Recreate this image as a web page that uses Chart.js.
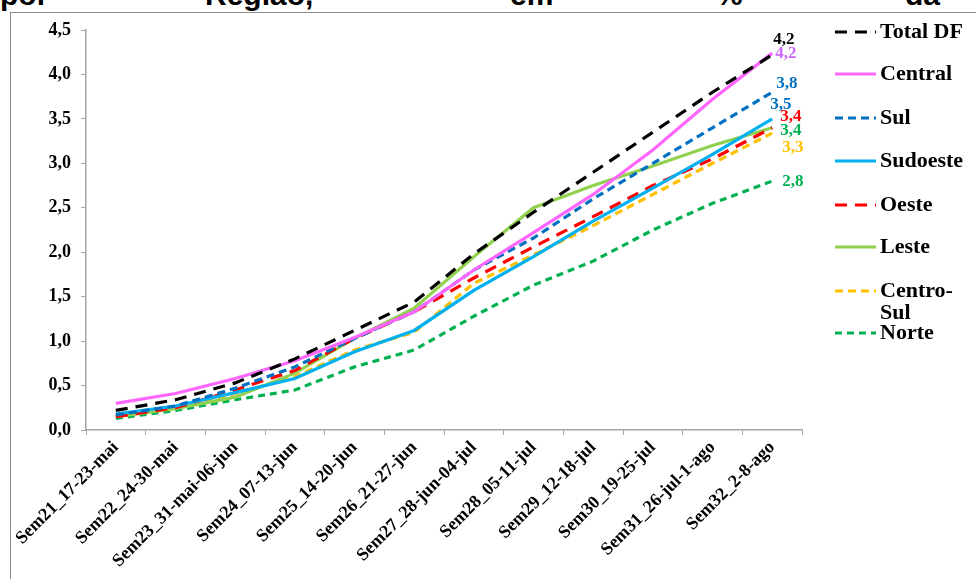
<!DOCTYPE html>
<html>
<head>
<meta charset="utf-8">
<script src="https://cdn.jsdelivr.net/npm/chart.js@4.4.1/dist/chart.umd.min.js"></script>
<style>
  html, body { margin: 0; padding: 0; background: #fff; overflow: hidden; }
  #wrap { position: relative; width: 976px; height: 579px; overflow: hidden; }
  #frame { position: absolute; left: 10px; top: 12px; width: 1000px; height: 600px; border-left: 1.5px solid #8c8c8c; border-top: 1.5px solid #8c8c8c; }
  .tw { position: absolute; top: -20px; font: bold 30px "Liberation Sans", Arial, sans-serif; line-height: 30px; color: #000; white-space: nowrap; }
  canvas { position: absolute; left: 0; top: 0; }
</style>
</head>
<body>
<div id="wrap">
  <div id="frame"></div>
  <div class="tw" style="left:0px">por</div>
  <div class="tw" style="left:205px">Região,</div>
  <div class="tw" style="left:510px">em</div>
  <div class="tw" style="left:716px">%</div>
  <div class="tw" style="left:905px">da</div>
  <canvas id="chart" width="976" height="579"></canvas>
</div>
<script>
const semanas = ['Sem21_17-23-mai', 'Sem22_24-30-mai', 'Sem23_31-mai-06-jun', 'Sem24_07-13-jun',
  'Sem25_14-20-jun', 'Sem26_21-27-jun', 'Sem27_28-jun-04-jul', 'Sem28_05-11-jul',
  'Sem29_12-18-jul', 'Sem30_19-25-jul', 'Sem31_26-jul-1-ago', 'Sem32_2-8-ago'];

const totalDF   = [0.22, 0.34, 0.53, 0.80, 1.12, 1.44, 1.98, 2.45, 2.90, 3.35, 3.80, 4.22];
const central   = [0.30, 0.41, 0.58, 0.78, 1.04, 1.33, 1.80, 2.22, 2.65, 3.15, 3.72, 4.24];
const sul       = [0.17, 0.27, 0.47, 0.71, 1.03, 1.33, 1.80, 2.16, 2.60, 3.00, 3.40, 3.80];
const sudoeste  = [0.18, 0.27, 0.42, 0.58, 0.88, 1.12, 1.57, 1.95, 2.35, 2.72, 3.10, 3.50];
const oeste     = [0.15, 0.25, 0.45, 0.67, 1.03, 1.33, 1.71, 2.06, 2.40, 2.75, 3.05, 3.40];
const leste     = [0.15, 0.24, 0.37, 0.64, 1.03, 1.37, 1.95, 2.50, 2.75, 2.97, 3.20, 3.40];
const centroSul = [0.15, 0.25, 0.41, 0.60, 0.90, 1.10, 1.65, 1.97, 2.30, 2.65, 3.00, 3.34];
const norte     = [0.13, 0.22, 0.34, 0.45, 0.71, 0.90, 1.28, 1.63, 1.90, 2.25, 2.55, 2.80];

const yTicks = [0, 0.5, 1, 1.5, 2, 2.5, 3, 3.5, 4, 4.5];

const serif = '"Liberation Serif", "Times New Roman", serif';

function ds(label, data, color, dash, labelColor, off) {
  return {
    label: label, data: data, borderColor: color, backgroundColor: color,
    borderWidth: 3.2, borderDash: dash, pointRadius: 0, tension: 0, fill: false,
    endColor: labelColor, endOffset: off
  };
}

const datasets = [
  ds('Total DF', totalDF, '#000000', [12, 8], '#000000', [1, -15]),
  ds('Central', central, '#ff66ff', [], '#cc66ff', [3, 0]),
  ds('Sul', sul, '#0070c0', [8, 5], '#0070c0', [4, -9]),
  ds('Sudoeste', sudoeste, '#00b0f0', [], '#0070c0', [-2, -14]),
  ds('Oeste', oeste, '#ff0000', [12, 8], '#ff0000', [8, -11]),
  ds('Leste', leste, '#92d050', [], '#00b050', [8, 3]),
  ds('Centro-Sul', centroSul, '#ffc000', [8, 5], '#ffc000', [10, 14]),
  ds('Norte', norte, '#00b050', [7, 5], '#00b050', [10, 0])
];

// rótulos do último ponto de cada série
const endLabels = {
  id: 'endLabels',
  afterDatasetsDraw(chart) {
    const ctx = chart.ctx;
    ctx.save();
    ctx.font = 'bold 17px ' + serif;
    ctx.textBaseline = 'middle';
    ctx.textAlign = 'left';
    chart.data.datasets.forEach((d, i) => {
      const meta = chart.getDatasetMeta(i);
      const pt = meta.data[meta.data.length - 1];
      const v = d.data[d.data.length - 1].toFixed(1).replace('.', ',');
      ctx.fillStyle = d.endColor;
      ctx.fillText(v, pt.x + d.endOffset[0], pt.y + d.endOffset[1]);
    });
    ctx.restore();
  }
};

// legenda à direita
const legendRows = [32, 74, 118, 161, 205, 247, 291, 333];
const sideLegend = {
  id: 'sideLegend',
  afterDraw(chart) {
    const ctx = chart.ctx;
    ctx.save();
    ctx.font = 'bold 22px ' + serif;
    ctx.textBaseline = 'middle';
    chart.data.datasets.forEach((d, i) => {
      const y = legendRows[i];
      ctx.strokeStyle = d.borderColor;
      ctx.lineWidth = 3.2;
      ctx.setLineDash(d.borderDash);
      ctx.beginPath();
      ctx.moveTo(835, y);
      ctx.lineTo(876, y);
      ctx.stroke();
      ctx.setLineDash([]);
      ctx.fillStyle = '#000';
      if (d.label === 'Centro-Sul') {
        ctx.fillText('Centro-', 880, y);
        ctx.fillText('Sul', 880, y + 22);
      } else {
        ctx.fillText(d.label, 880, y);
      }
    });
    ctx.restore();
  }
};

new Chart(document.getElementById('chart'), {
  type: 'line',
  data: { labels: semanas, datasets: datasets },
  plugins: [endLabels, sideLegend],
  options: {
    responsive: false,
    animation: false,
    layout: { padding: { left: 0, top: 30, right: 174, bottom: 0 } },
    plugins: { legend: { display: false }, tooltip: { enabled: false } },
    scales: {
      x: {
        offset: true,
        grid: { offset: true, drawOnChartArea: false, tickLength: 5, color: '#a6a6a6' },
        border: { color: '#a6a6a6', width: 1.5 },
        ticks: {
          color: '#000', font: { family: serif, size: 18, weight: 'bold' },
          minRotation: 45, maxRotation: 45, autoSkip: false, padding: 2
        },
        afterFit(scale) { scale.height = 149; }
      },
      y: {
        min: 0, max: 4.5,
        afterBuildTicks(scale) { scale.ticks = yTicks.map(v => ({ value: v })); },
        grid: { drawOnChartArea: false, tickLength: 5, color: '#a6a6a6' },
        border: { color: '#a6a6a6', width: 1.5 },
        ticks: {
          color: '#000', font: { family: serif, size: 18, weight: 'bold' }, padding: 10,
          callback: v => v.toFixed(1).replace('.', ',')
        },
        afterFit(scale) { scale.width = 86; }
      }
    }
  }
});
</script>
</body>
</html>
